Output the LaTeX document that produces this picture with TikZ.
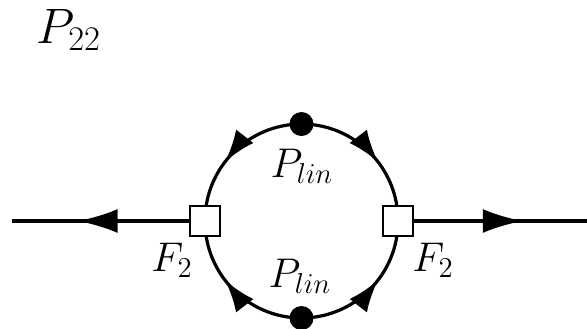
\documentclass[tikz,border=0pt]{standalone}
\usetikzlibrary{arrows.meta,decorations.markings,backgrounds}
\begin{document}
\begin{tikzpicture}[x=0.5pt,y=-0.5pt,
  vertex/.style={draw,line width=1.3pt,fill=white,minimum size=15pt,inner sep=0pt},
  blob/.style={circle,fill=black,minimum size=12pt,inner sep=0pt},
  prop/.style={line width=1.6pt},
  lbl/.style={font=\fontsize{19.5}{22}\selectfont},
  bigtip/.tip={Latex[length=20pt,width=12pt]},
  smalltip/.tip={Latex[length=16pt,width=11pt]},
  midarrow/.style={postaction={decorate},decoration={markings,mark=at position #1 with {\arrow{smalltip}}}},
  linearrow/.style={postaction={decorate},decoration={markings,mark=at position #1 with {\arrow{bigtip}}}}
]
\useasboundingbox (0,0) rectangle (587,328);
\node[vertex] (L) at (205,221) {};
\node[vertex] (R) at (398,221) {};
\node[blob] (T) at (301.5,124) {};
\node[blob] (B) at (301.5,318) {};
\coordinate (Lend) at (12,221);
\coordinate (Rend) at (590,221);
\begin{scope}[on background layer]
  \draw[prop,midarrow=0.58] (T.center) to[bend right=45] (L.center);
  \draw[prop,midarrow=0.58] (T.center) to[bend left=45] (R.center);
  \draw[prop,midarrow=0.58] (B.center) to[bend left=45] (L.center);
  \draw[prop,midarrow=0.58] (B.center) to[bend right=45] (R.center);
  \draw[prop,linearrow=0.66] (L.center) -- (Lend);
  \draw[prop,linearrow=0.65] (R.center) -- (Rend);
\end{scope}
\node[font=\fontsize{24}{28}\selectfont] (title) at (69,30) {$P_{22}$};
\node[lbl] (p1) at (302,166) {$P_{lin}$};
\node[lbl] (p2) at (300,276) {$P_{lin}$};
\node[lbl] (f1) at (172,260) {$F_2$};
\node[lbl] (f2) at (433,260) {$F_2$};
\end{tikzpicture}
\end{document}
